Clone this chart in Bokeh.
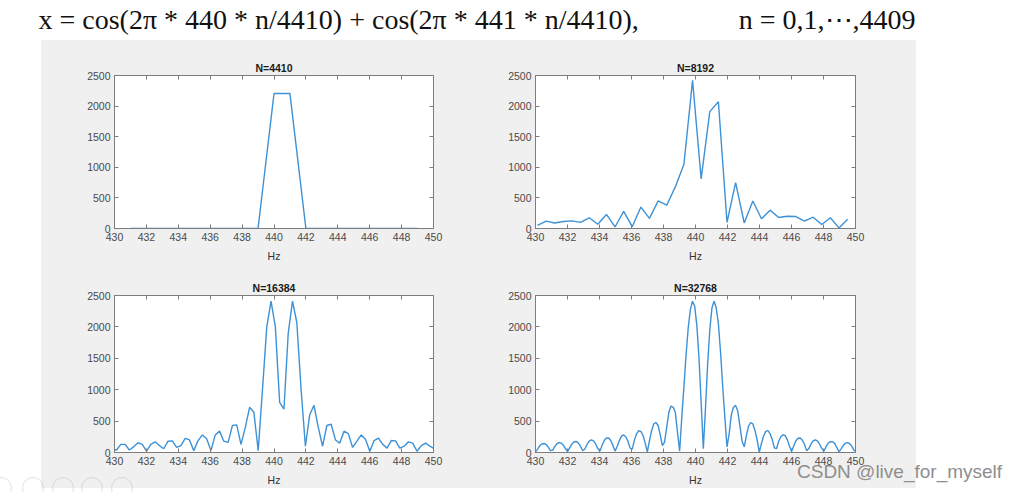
import numpy as np
from bokeh.plotting import figure
from bokeh.models import LinearAxis, FixedTicker, Label, Div
from bokeh.layouts import row, column
from bokeh.embed import file_html
from bokeh.resources import INLINE

# ---------------- data ----------------
FS = 4410
FORMULA_LEFT = "x = cos(2π * 440 * n/4410) + cos(2π * 441 * n/4410),"
FORMULA_RIGHT = "n = 0,1,⋯,4409"
WATERMARK = "CSDN @live_for_myself"
X_TICKS = [430, 432, 434, 436, 438, 440, 442, 444, 446, 448, 450]
Y_TICKS = [0, 500, 1000, 1500, 2000, 2500]
X_LABEL = "Hz"

N_SIZES = [4410, 8192, 16384, 32768]
TITLES = ["N=4410", "N=8192", "N=16384", "N=32768"]
FIRST_BIN = [431, 799, 1597, 3195]   # index k of first DFT bin shown

mag_4410 = [0, 0, 0, 0, 0, 0, 0, 0, 0, 2205, 2205, 0, 0, 0, 0, 0, 0, 0, 0]

mag_8192 = [50, 120, 90, 115, 125, 100, 175, 70, 230, 25,
            280, 30, 350, 165, 450, 380, 680, 1050, 2420, 810,
            1910, 2070, 100, 750, 90, 450, 160, 300, 180, 200,
            195, 120, 185, 65, 175, 10, 150]

mag_16384 = [45, 40, 130, 130, 40, 90, 155, 130, 20, 130,
             170, 110, 60, 180, 185, 80, 110, 225, 200, 30,
             190, 280, 220, 30, 280, 340, 180, 160, 430, 440,
             130, 400, 720, 640, 30, 1000, 2000, 2410, 2000, 800,
             690, 1900, 2410, 2070, 1000, 100, 600, 750, 400, 100,
             430, 450, 200, 150, 340, 300, 80, 180, 280, 210,
             20, 190, 230, 130, 70, 190, 185, 70, 100, 170,
             150, 20, 110, 150, 100, 60]

mag_32768 = [5, 54, 106, 136, 144, 127, 85, 31, 35, 94,
             140, 159, 150, 117, 59, 17, 77, 137, 171, 176,
             150, 96, 28, 56, 128, 181, 200, 184, 136, 62,
             22, 116, 190, 230, 230, 190, 113, 22, 95, 190,
             260, 280, 250, 180, 70, 55, 197, 298, 346, 336,
             270, 150, 10, 190, 350, 456, 478, 430, 282, 110,
             165, 400, 640, 740, 720, 640, 320, 20, 560, 1050,
             1560, 1990, 2280, 2410, 2330, 2020, 1500, 790, 60, 700,
             1400, 1950, 2300, 2410, 2300, 2050, 1600, 1050, 560, 90,
             300, 600, 720, 750, 660, 420, 180, 90, 270, 420,
             478, 455, 350, 200, 5, 145, 262, 336, 348, 300,
             206, 75, 62, 178, 250, 284, 268, 205, 105, 15,
             106, 188, 228, 231, 195, 128, 30, 62, 132, 185,
             200, 184, 132, 66, 22, 92, 148, 173, 172, 145,
             80, 11, 59, 112, 150, 158, 140, 98, 35, 20]

MAGS = [mag_4410, mag_8192, mag_16384, mag_32768]

# ---------------- style ----------------
PANEL_BG = "#f0f0f0"
AX_COL = "#7d7d7d"
TICK_TXT = "#4a4a4a"
LINE_COL = "#3d91d6"
SANS = "Liberation Sans"

def make_panel(i, width, borders):
    N = N_SIZES[i]
    vals = MAGS[i]
    freqs = np.arange(FIRST_BIN[i], FIRST_BIN[i] + len(vals)) * FS / N
    left, right, top, bottom = borders
    p = figure(width=width, height=224, x_range=(430, 450), y_range=(0, 2500),
               output_backend="svg", toolbar_location=None,
               min_border_left=left, min_border_right=right,
               min_border_top=top, min_border_bottom=bottom,
               background_fill_color="white", border_fill_color=PANEL_BG,
               outline_line_color=AX_COL, outline_line_width=1)
    p.grid.visible = False
    p.line(freqs, vals, line_color=LINE_COL, line_width=1.4)

    for ax, ticks in ((p.xaxis[0], X_TICKS), (p.yaxis[0], Y_TICKS)):
        ax.ticker = FixedTicker(ticks=ticks)
        ax.major_tick_in = 4
        ax.major_tick_out = 0
        ax.minor_tick_line_color = None
        ax.axis_line_color = AX_COL
        ax.major_tick_line_color = AX_COL
        ax.major_label_text_font = SANS
        ax.major_label_text_font_size = "10.5px"
        ax.major_label_text_color = TICK_TXT
        ax.major_label_standoff = 4
    p.xaxis.axis_label = X_LABEL
    p.xaxis.axis_label_text_font = SANS
    p.xaxis.axis_label_text_font_size = "10.5px"
    p.xaxis.axis_label_text_font_style = "normal"
    p.xaxis.axis_label_text_color = "#333333"
    p.xaxis.axis_label_standoff = 6

    # MATLAB-style box: inward ticks on the top and right edges, no labels
    for side, ticks in (("above", X_TICKS), ("right", Y_TICKS)):
        ax = LinearAxis(ticker=FixedTicker(ticks=ticks),
                        major_label_text_font_size="1px",
                        major_label_text_color=None, major_label_standoff=0,
                        major_tick_in=4, major_tick_out=0,
                        minor_tick_line_color=None,
                        axis_line_color=AX_COL, major_tick_line_color=AX_COL)
        p.add_layout(ax, side)

    p.title.text = TITLES[i]
    p.title.align = "center"
    p.title.text_font = SANS
    p.title.text_font_size = "10.5px"
    p.title.text_font_style = "bold"
    p.title.text_color = "#1a1a1a"
    p.title.standoff = 3
    return p

tl = make_panel(0, 443, (73, 51, 35, 31))
tr = make_panel(1, 432, (51, 61, 35, 31))
bl = make_panel(2, 443, (73, 51, 31, 35))
br = make_panel(3, 432, (51, 61, 31, 35))

def blank(width, height, color="white"):
    f = figure(width=width, height=height, x_range=(0, width), y_range=(0, height),
               output_backend="svg", toolbar_location=None, title=None,
               x_axis_location=None, y_axis_location=None,
               min_border=0, background_fill_color=color, border_fill_color=color,
               outline_line_color=None)
    f.grid.visible = False
    return f

head = blank(1012, 40)
head.add_layout(Label(x=38, y=21, text=FORMULA_LEFT, text_font="Liberation Serif",
                      text_font_size="28px", text_color="#111111",
                      text_baseline="middle"))
head.add_layout(Label(x=915, y=21, text=FORMULA_RIGHT, text_font="Liberation Serif",
                      text_font_size="28px", text_color="#111111",
                      text_baseline="middle", text_align="right"))

left_strip = blank(41, 448)
right_strip = blank(96, 448)

watermark = Div(text=WATERMARK, styles={
    "position": "absolute", "left": "792px", "top": "457px",
    "font-family": "Liberation Sans", "font-size": "19px", "line-height": "19px",
    "color": "#8e8e8e", "white-space": "nowrap", "z-index": "10",
    "pointer-events": "none"})

# faint window-toolbar circles at the bottom-left of the screenshot
icons = []
for cx in [-3, 29, 59, 88, 118]:
    icons.append(Div(text="", styles={
        "position": "absolute", "left": f"{cx - 12}px", "top": "472px",
        "width": "22px", "height": "22px", "border-radius": "50%",
        "border": "1.5px solid rgba(140,140,140,0.25)", "z-index": "9",
        "pointer-events": "none"}))

grid = column(row(tl, tr), row(bl, br),
              styles={"background-color": PANEL_BG})
layout = column(head, row(left_strip, grid, right_strip), watermark, *icons)

open("out.html", "w").write(file_html(layout, INLINE))
